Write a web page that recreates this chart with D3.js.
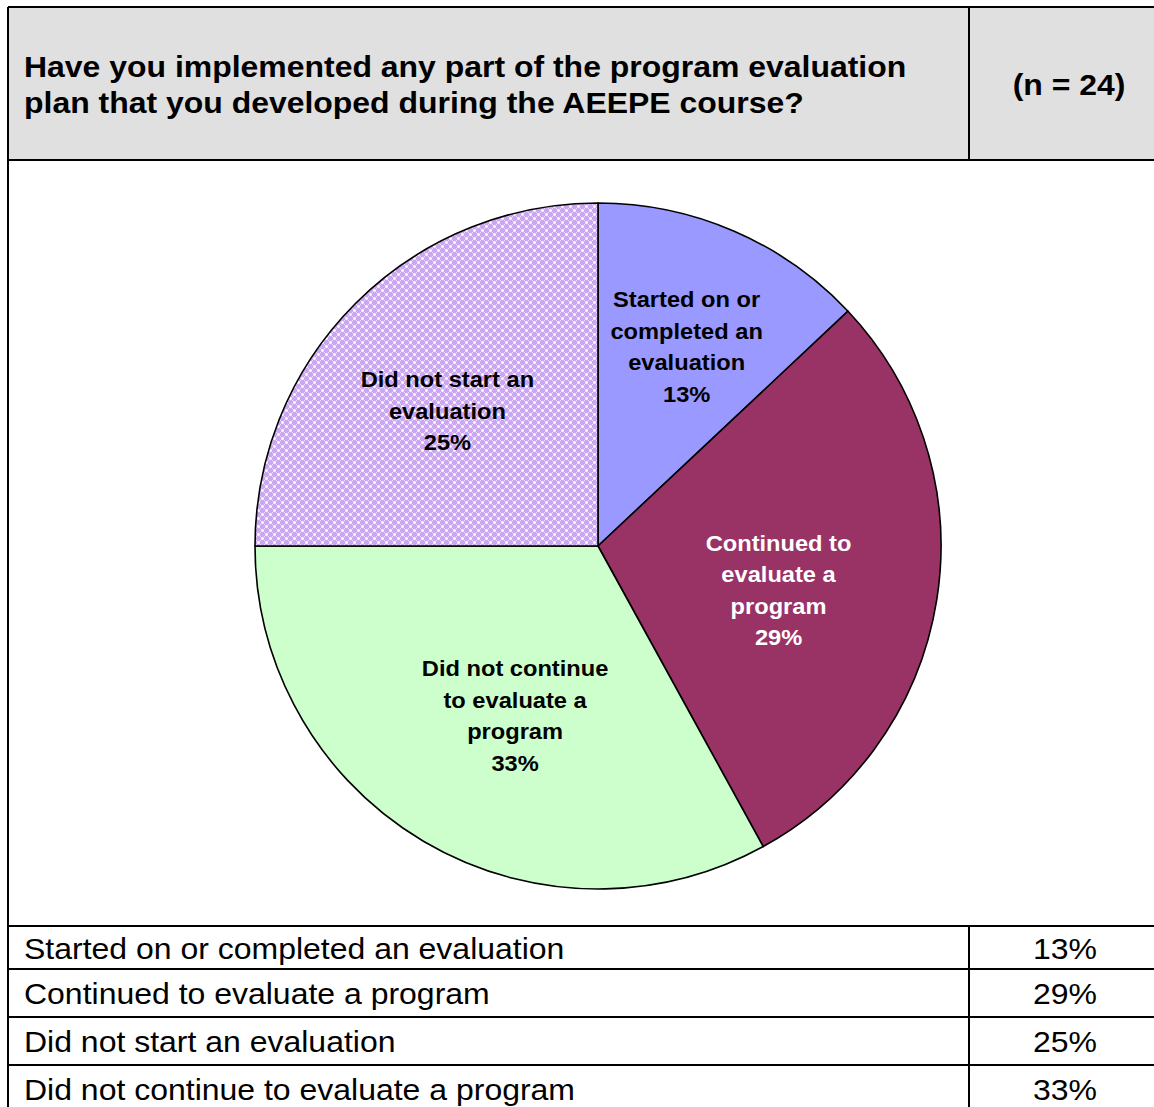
<!DOCTYPE html>
<html>
<head>
<meta charset="utf-8">
<script src="https://cdn.jsdelivr.net/npm/d3@7"></script>
<style>
  html, body { margin: 0; padding: 0; background: #ffffff; }
  svg { display: block; }
</style>
</head>
<body>
<svg id="chart" width="1154" height="1107"></svg>
<script>
// Survey question and sample size
const question = ["Have you implemented any part of the program evaluation",
                  "plan that you developed during the AEEPE course?"];
const sampleLabel = "(n = 24)";

// Pie slices, clockwise from 12 o'clock
const sliceNames = ["Started on or completed an evaluation",
                    "Continued to evaluate a program",
                    "Did not continue to evaluate a program",
                    "Did not start an evaluation"];
const sliceLabelLines = [["Started on or", "completed an", "evaluation"],
                         ["Continued to", "evaluate a", "program"],
                         ["Did not continue", "to evaluate a", "program"],
                         ["Did not start an", "evaluation"]];
const sliceValues = [13, 29, 33, 25];

// Summary table rows
const tableNames = ["Started on or completed an evaluation",
                    "Continued to evaluate a program",
                    "Did not start an evaluation",
                    "Did not continue to evaluate a program"];
const tableValues = [13, 29, 25, 33];

const svg = d3.select("#chart");
const W = 1154, H = 1107;
const gridLeft = 8, gridTop = 7, divX = 969;
const headerBottom = 160, chartBottom = 926;
const rowLines = [926, 969, 1017, 1065, 1113];

const fontFamily = "'Liberation Sans', Arial, Helvetica, sans-serif";

// text helper: places a label at (x, y) with a slight horizontal widening
function addText(parent, x, y, str, opts) {
  return parent.append("text")
    .attr("transform", `translate(${x},${y}) scale(${opts.sx || 1},1)`)
    .attr("text-anchor", opts.anchor || "start")
    .attr("font-family", fontFamily)
    .attr("font-weight", opts.bold ? "bold" : "normal")
    .attr("font-size", opts.size)
    .attr("fill", opts.fill || "#000")
    .text(str);
}

// ---- header row ----
svg.append("rect").attr("x", gridLeft).attr("y", gridTop)
  .attr("width", W - gridLeft + 2).attr("height", headerBottom - gridTop)
  .attr("fill", "#e0e0e0");

const head = svg.append("g");
question.forEach((q, i) => {
  addText(head, 24, 77 + i * 36, q, { size: 30, bold: true, sx: 1.065 });
});
addText(head, 1069, 95, sampleLabel, { size: 30, bold: true, sx: 1.065, anchor: "middle" });

// ---- pie ----
const defs = svg.append("defs");
const pat = defs.append("pattern").attr("id", "lavenderLattice")
  .attr("patternUnits", "userSpaceOnUse").attr("width", 8).attr("height", 8);
pat.append("rect").attr("width", 8).attr("height", 8).attr("fill", "#cca5f7");
// light diamond lattice on the lavender ground
const latticeCells = [
  [0,0,"#ffffff"],[1,0,"#f7f2fe"],[7,0,"#f7f2fe"],[0,1,"#f7f2fe"],[0,7,"#f7f2fe"],
  [4,4,"#ffffff"],[3,4,"#f7f2fe"],[5,4,"#f7f2fe"],[4,3,"#f7f2fe"],[4,5,"#f7f2fe"],
  [2,2,"#ecdffd"],[6,6,"#ecdffd"],[6,2,"#ecdffd"],[2,6,"#ecdffd"],
  [1,1,"#e2cffb"],[7,7,"#e2cffb"],[7,1,"#e2cffb"],[1,7,"#e2cffb"],
  [3,3,"#e2cffb"],[5,5,"#e2cffb"],[5,3,"#e2cffb"],[3,5,"#e2cffb"]
];
latticeCells.forEach(([x, y, c]) => {
  pat.append("rect").attr("x", x).attr("y", y).attr("width", 1).attr("height", 1).attr("fill", c);
});

const sliceFills = ["#9999ff", "#993366", "#ccffcc", "url(#lavenderLattice)"];
const labelColors = ["#000", "#fff", "#000", "#000"];
// label placement: radius fraction along the slice bisector plus a small nudge
const labelRadius = [0.636, 0.53, 0.555, 0.588];
const labelNudge = [[2, 1], [1, 16], [14, 6], [-8, 8]];

const cx = 598, cy = 546, R = 343;
const pie = d3.pie().value(d => d).sort(null);
const arcs = pie(sliceValues);
const arc = d3.arc().innerRadius(0).outerRadius(R);

const g = svg.append("g").attr("transform", `translate(${cx},${cy})`);
g.selectAll("path").data(arcs).join("path")
  .attr("d", arc)
  .attr("fill", (d, i) => sliceFills[i])
  .attr("stroke", "#000").attr("stroke-width", 1.6)
  .attr("stroke-linejoin", "round");

const lineH = 31.5;
arcs.forEach((a, i) => {
  const mid = (a.startAngle + a.endAngle) / 2;
  const r = R * labelRadius[i];
  const lx = Math.sin(mid) * r + labelNudge[i][0];
  const ly = -Math.cos(mid) * r + labelNudge[i][1];
  const lines = sliceLabelLines[i].concat([Math.round(sliceValues[i]) + "%"]);
  lines.forEach((s, k) => {
    addText(g, lx, ly + (k - (lines.length - 1) / 2) * lineH + 7.5, s,
      { size: 21.5, bold: true, sx: 1.1, anchor: "middle", fill: labelColors[i] });
  });
});

// ---- summary table ----
const tbl = svg.append("g");
tableNames.forEach((name, i) => {
  const y0 = rowLines[i], y1 = rowLines[i + 1];
  const base = y0 + (y1 - y0) / 2 + 11;
  addText(tbl, 24, base, name, { size: 30, sx: 1.066 });
  addText(tbl, 1065, base, tableValues[i] + "%", { size: 30, sx: 1.066, anchor: "middle" });
});

// ---- grid lines ----
const grid = svg.append("g").attr("stroke", "#000").attr("stroke-width", 1.5)
  .attr("shape-rendering", "crispEdges");
grid.append("line").attr("x1", gridLeft).attr("x2", W).attr("y1", gridTop).attr("y2", gridTop);
grid.append("line").attr("x1", gridLeft).attr("x2", gridLeft).attr("y1", gridTop).attr("y2", H);
grid.append("line").attr("x1", gridLeft).attr("x2", W).attr("y1", headerBottom).attr("y2", headerBottom);
grid.append("line").attr("x1", divX).attr("x2", divX).attr("y1", gridTop).attr("y2", headerBottom);
grid.append("line").attr("x1", divX).attr("x2", divX).attr("y1", chartBottom).attr("y2", H);
rowLines.slice(0, 4).forEach(y => {
  grid.append("line").attr("x1", gridLeft).attr("x2", W).attr("y1", y).attr("y2", y);
});
</script>
</body>
</html>
